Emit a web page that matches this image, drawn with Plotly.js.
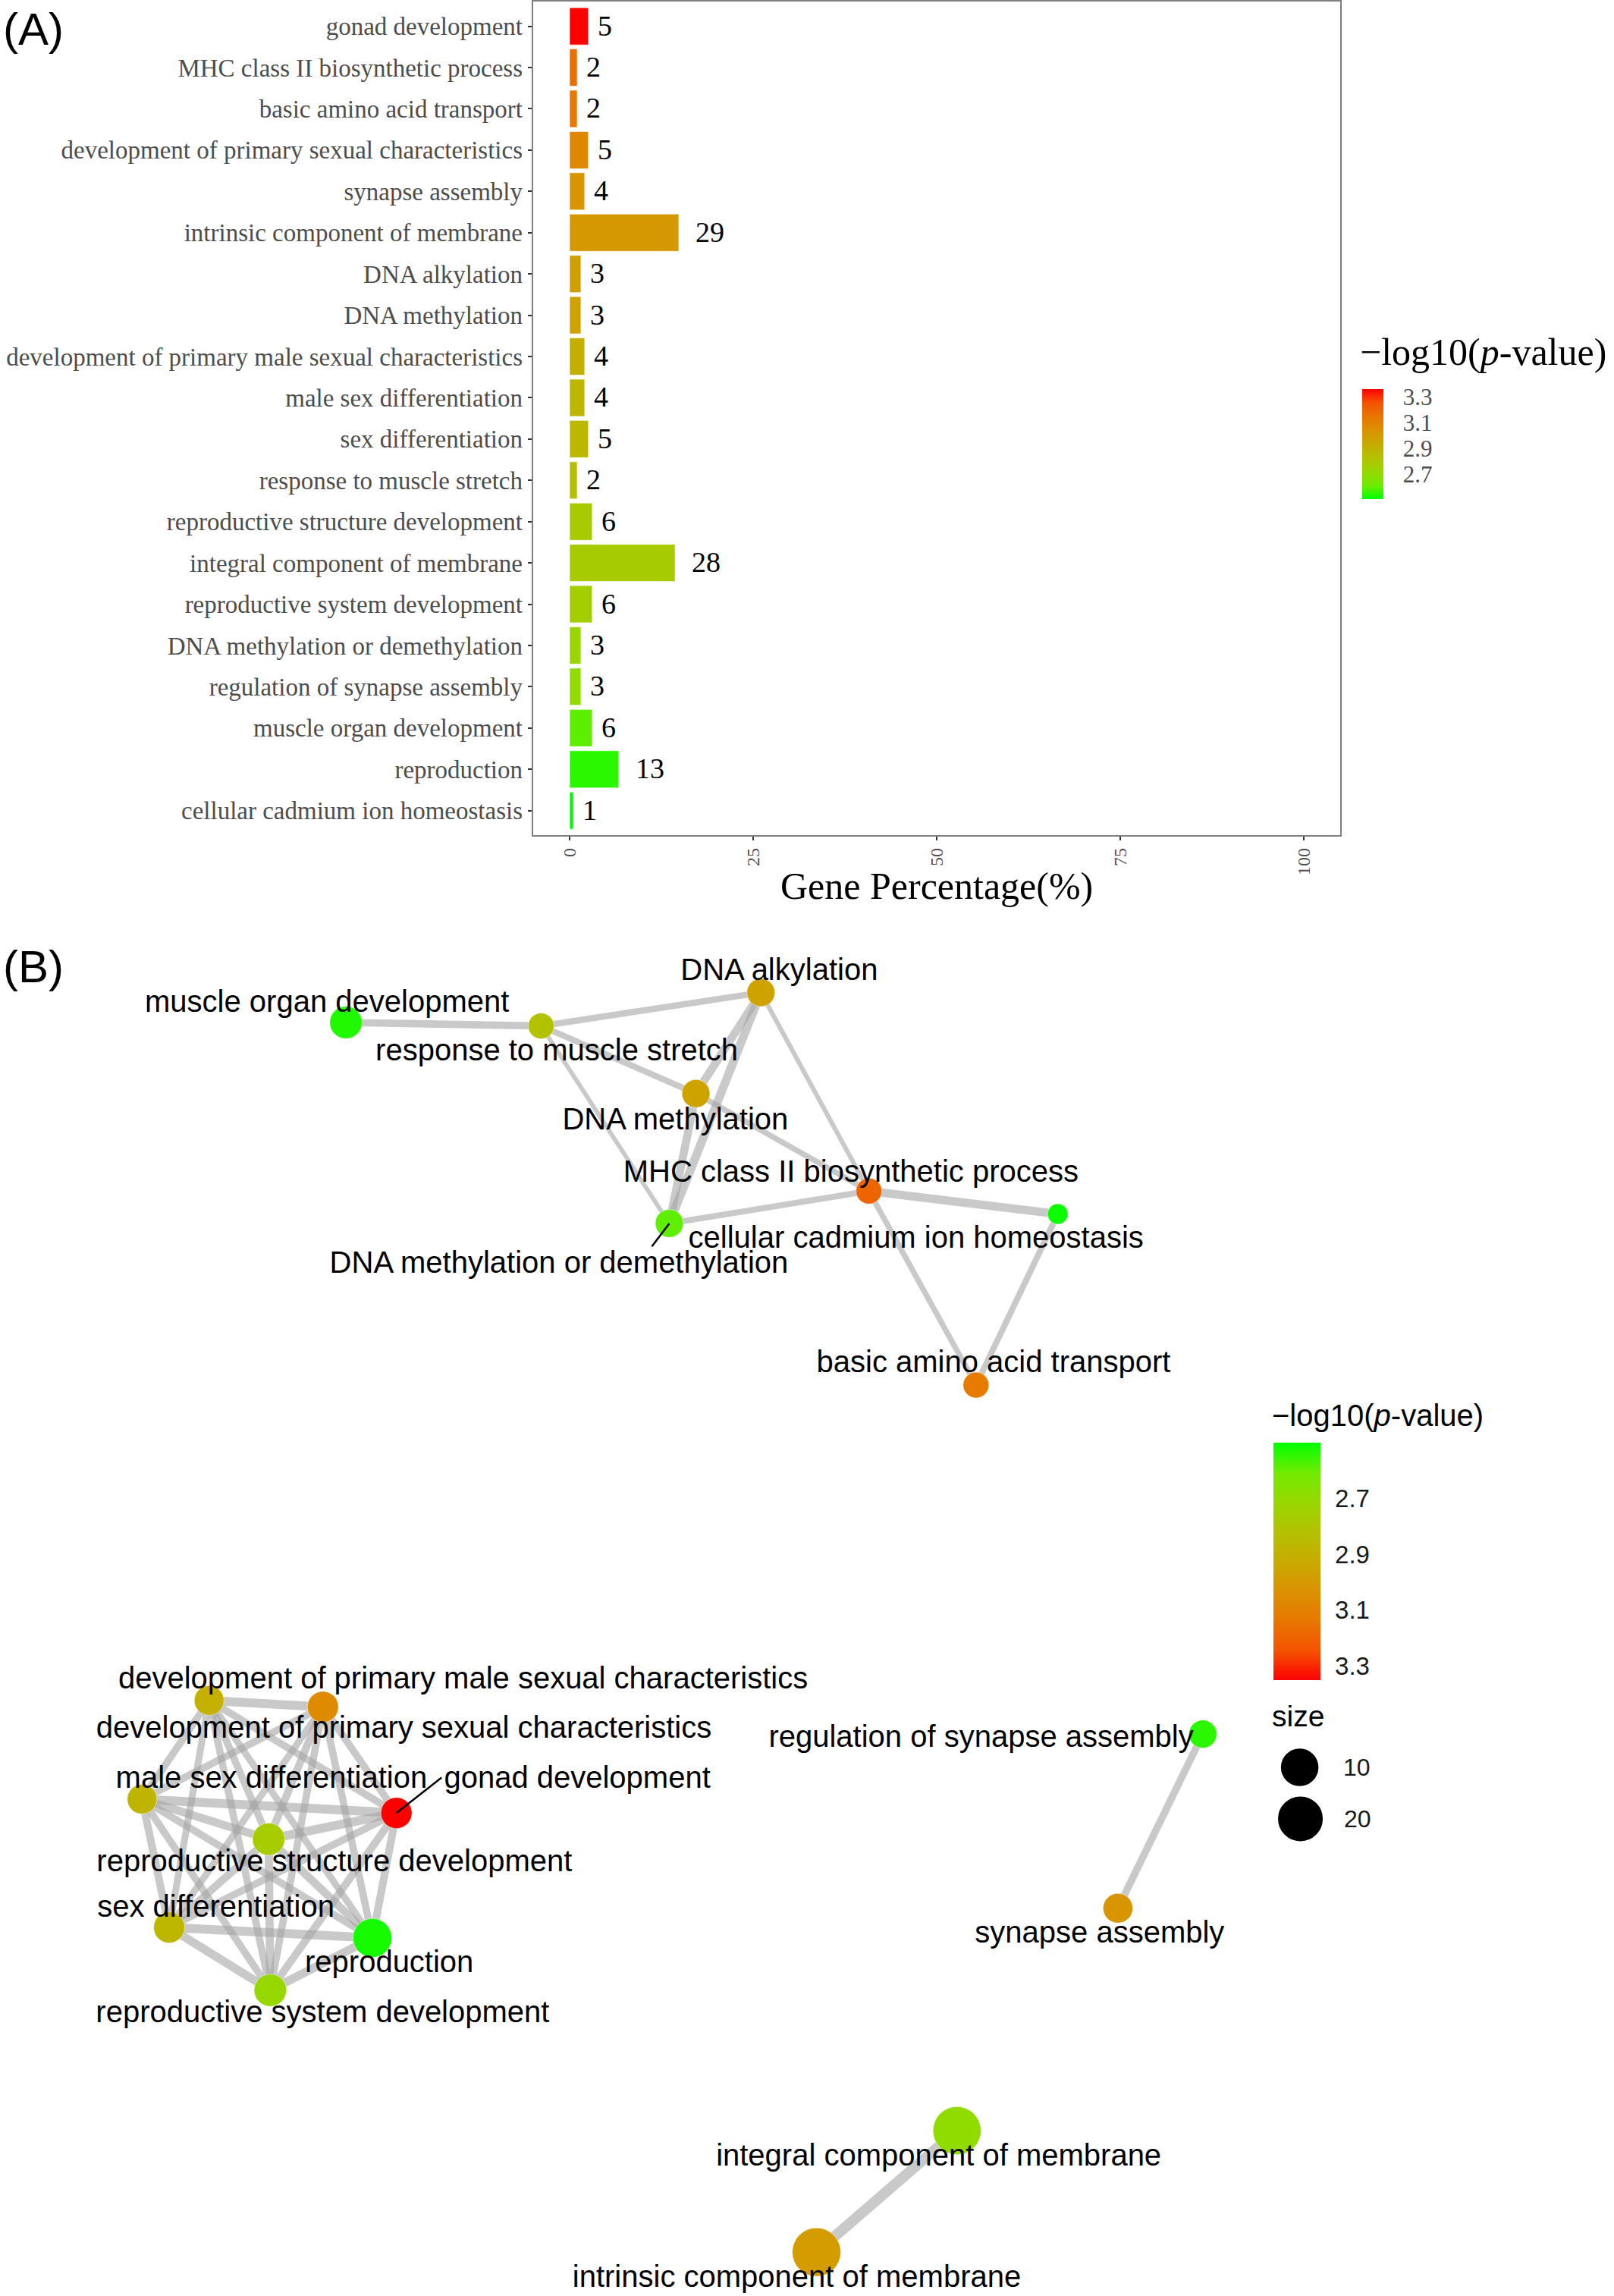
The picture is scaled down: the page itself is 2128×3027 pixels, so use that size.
<!DOCTYPE html>
<html>
<head>
<meta charset="utf-8">
<script src="https://cdn.plot.ly/plotly-3.0.1.min.js"></script>
<style>
html,body{margin:0;padding:0;background:#ffffff;}
#chart{width:2128px;height:3027px;}
</style>
</head>
<body>
<div id="chart"></div>
<script>
// ---------------- DATA ----------------
const terms = [
  "gonad development",
  "MHC class II biosynthetic process",
  "basic amino acid transport",
  "development of primary sexual characteristics",
  "synapse assembly",
  "intrinsic component of membrane",
  "DNA alkylation",
  "DNA methylation",
  "development of primary male sexual characteristics",
  "male sex differentiation",
  "sex differentiation",
  "response to muscle stretch",
  "reproductive structure development",
  "integral component of membrane",
  "reproductive system development",
  "DNA methylation or demethylation",
  "regulation of synapse assembly",
  "muscle organ development",
  "reproduction",
  "cellular cadmium ion homeostasis"
];
const geneCounts = [5, 2, 2, 5, 4, 29, 3, 3, 4, 4, 5, 2, 6, 28, 6, 3, 3, 6, 13, 1];
const genePct = [2.56, 1.03, 1.03, 2.56, 2.05, 14.87, 1.54, 1.54, 2.05, 2.05, 2.56, 1.03, 3.08, 14.36, 3.08, 1.54, 1.54, 3.08, 6.67, 0.51];
const negLogP = [3.36, 3.17, 3.14, 3.08, 3.02, 3.01, 2.98, 2.97, 2.91, 2.88, 2.87, 2.84, 2.78, 2.77, 2.76, 2.72, 2.69, 2.59, 2.54, 2.50];
const xTickVals = [0, 25, 50, 75, 100];
const colorTickVals = [2.7, 2.9, 3.1, 3.3];

// network (panel B): node colour values, layout coordinates, label coordinates
const nodeNegLogP = [3.35, 3.19, 3.12, 3.06, 3.02, 2.99, 2.96, 2.96, 2.90, 2.88, 2.87, 2.82, 2.77, 2.69, 2.71, 2.59, 2.54, 2.53, 2.52, 2.51];
const nodeX = [270.9, 593.8, 667.0, 220.7, 764.0, 558.0, 520.0, 475.6, 142.9, 97.1, 115.6, 369.8, 183.6, 654.0, 184.7, 457.4, 822.0, 236.4, 254.5, 722.9];
const nodeY = [1238.9, 813.9, 946.5, 1166.4, 1304.0, 1539.0, 678.3, 747.3, 1162.0, 1229.5, 1317.1, 701.1, 1256.8, 1456.0, 1360.0, 836.0, 1185.0, 698.7, 1324.3, 829.6];
const labelX = [394.5, 581.5, 679.0, 276.0, 751.5, 544.5, 532.5, 461.5, 316.5, 185.5, 147.5, 380.5, 228.5, 641.5, 220.5, 382.0, 670.5, 223.5, 266.0, 626.0];
const labelY = [1214, 800, 930, 1180, 1320, 1555, 662, 764, 1146, 1214, 1302, 717, 1271, 1472, 1374, 862, 1186, 684, 1340, 845];
// edges: from, to, similarity
const edgeFrom = [17, 11, 11, 11, 6, 6, 7, 6, 7, 15, 1, 1, 19,
  8, 8, 8, 8, 8, 8, 8, 3, 3, 3, 3, 3, 3, 9, 9, 9, 9, 9, 0, 0, 0, 0, 12, 12, 12, 10, 10, 18,
  16, 13];
const edgeTo = [11, 6, 7, 15, 7, 15, 15, 1, 1, 1, 19, 2, 2,
  3, 9, 0, 12, 10, 18, 14, 9, 0, 12, 10, 18, 14, 0, 12, 10, 18, 14, 12, 10, 18, 14, 10, 18, 14, 18, 14, 14,
  4, 5];
const edgeSim = [0.60, 0.50, 0.45, 0.25, 0.70, 0.75, 0.70, 0.28, 0.40, 0.45, 0.75, 0.40, 0.45,
  0.80, 0.60, 0.60, 0.60, 0.55, 0.55, 0.60, 0.60, 0.60, 0.65, 0.55, 0.60, 0.60, 0.80, 0.70, 0.65, 0.60, 0.60, 0.80, 0.60, 0.65, 0.65, 0.65, 0.70, 0.70, 0.80, 0.75, 0.75,
  0.60, 1.00];
// ggrepel leader segments: node index -> label end point
const leaderNode = [15, 0];
const leaderEndX = [445.5, 301.8];
const leaderEndY = [851.8, 1214.7];
const sizeLegendVals = [10, 20];

// ---------------- SCALES / STYLE ----------------
const W = 2128, H = 3027;
const colorscale = [
  [0, '#00FF00'], [0.125, '#70EB00'], [0.25, '#98D700'], [0.375, '#B3C200'],
  [0.5, '#C8AB00'], [0.625, '#DA9200'], [0.75, '#E87700'], [0.875, '#F45300'], [1, '#FF0000']
];
const colorscaleRev = colorscale.map(s => [1 - s[0], s[1]]).reverse();
const cMin = 2.50, cMax = 3.36;
const cMin2 = 2.50, cMax2 = 3.35;

const cntMin = Math.min(...geneCounts), cntMax = Math.max(...geneCounts);
function sizeScale(c) {
  const t = Math.max(0, (c - cntMin) / (cntMax - cntMin));
  return 27 + 37 * Math.sqrt(t);
}
function edgeWidth(s) { return 3 + 11 * s; }

const serif = 'Liberation Serif, Times New Roman, serif';
const sans = 'Liberation Sans, Arial, Helvetica, sans-serif';

// network axes use reference-drawing units (1103 x 1569 frame)
const netTop = 1240; // px
const unit = W / 1103.0;
const labelDy = 2.5; // text baseline correction

function py(p) { return 1 - p / H; }
function px(p) { return p / W; }

const traces = [];

// Panel A bars
traces.push({
  type: 'bar', orientation: 'h',
  x: genePct, y: terms,
  xaxis: 'x', yaxis: 'y',
  width: 0.9,
  marker: { color: negLogP, coloraxis: 'coloraxis', line: { color: 'rgba(255,255,255,0.6)', width: 1 } },
  hoverinfo: 'skip', showlegend: false
});

// Panel B edges
for (let k = 0; k < edgeFrom.length; k++) {
  const a = edgeFrom[k], b = edgeTo[k];
  traces.push({
    type: 'scatter', mode: 'lines',
    x: [nodeX[a], nodeX[b]], y: [nodeY[a], nodeY[b]],
    xaxis: 'x2', yaxis: 'y2',
    line: { color: 'rgba(165,165,165,0.6)', width: edgeWidth(edgeSim[k]) },
    hoverinfo: 'skip', showlegend: false
  });
}
// nodes
traces.push({
  type: 'scatter', mode: 'markers',
  x: nodeX, y: nodeY, xaxis: 'x2', yaxis: 'y2',
  marker: {
    size: geneCounts.map(sizeScale),
    color: nodeNegLogP.map(v => -v), coloraxis: 'coloraxis2',
    opacity: 1,
    line: { color: 'rgba(255,255,255,0.5)', width: 1 }
  },
  hoverinfo: 'skip', showlegend: false
});
// leader segments
for (let k = 0; k < leaderNode.length; k++) {
  const n = leaderNode[k];
  traces.push({
    type: 'scatter', mode: 'lines',
    x: [nodeX[n], leaderEndX[k]], y: [nodeY[n], leaderEndY[k]],
    xaxis: 'x2', yaxis: 'y2',
    line: { color: '#000000', width: 2.5 },
    hoverinfo: 'skip', showlegend: false
  });
}
// labels
traces.push({
  type: 'scatter', mode: 'text',
  x: labelX, y: labelY.map(v => v + labelDy), text: terms, xaxis: 'x2', yaxis: 'y2',
  textposition: 'middle center',
  textfont: { family: sans, size: 40, color: '#000000' },
  hoverinfo: 'skip', showlegend: false, cliponaxis: false
});
// size legend keys
const legendKeyX = [888.2, 888.7];
const legendKeyY = [1207.7, 1242.9];
traces.push({
  type: 'scatter', mode: 'markers',
  x: legendKeyX, y: legendKeyY, xaxis: 'x2', yaxis: 'y2',
  marker: { size: sizeLegendVals.map(sizeScale), color: '#000000', opacity: 1, line: { color: '#000000', width: 1.5 } },
  hoverinfo: 'skip', showlegend: false, cliponaxis: false
});

// ---------------- ANNOTATIONS ----------------
const annotations = [];
for (let i = 0; i < terms.length; i++) {
  const lbl = String(geneCounts[i]);
  annotations.push({
    x: genePct[i], y: terms[i], xref: 'x', yref: 'y',
    text: lbl, showarrow: false,
    xanchor: 'left', yanchor: 'middle', xshift: 1 + 9.5 * lbl.length, yshift: 1,
    font: { family: serif, size: 38, color: '#000000' }
  });
}
annotations.push({ x: px(2), y: py(38), xref: 'paper', yref: 'paper', xanchor: 'left', yanchor: 'middle',
  text: '(A)', showarrow: false, font: { family: sans, size: 60, color: '#000' } });
annotations.push({ x: px(2), y: py(1274), xref: 'paper', yref: 'paper', xanchor: 'left', yanchor: 'middle',
  text: '(B)', showarrow: false, font: { family: sans, size: 60, color: '#000' } });
annotations.push({ x: px(1235), y: py(1168), xref: 'paper', yref: 'paper', xanchor: 'center', yanchor: 'middle',
  text: 'Gene Percentage(%)', showarrow: false, font: { family: serif, size: 50, color: '#000' } });
annotations.push({ x: px(1791), y: py(464), xref: 'paper', yref: 'paper', xanchor: 'left', yanchor: 'middle',
  text: '\u2212log10(<i>p</i>-value)', showarrow: false, font: { family: serif, size: 50, color: '#000' } });
annotations.push({ x: px(1675), y: py(1866), xref: 'paper', yref: 'paper', xanchor: 'left', yanchor: 'middle',
  text: '\u2212log10(<i>p</i>-value)', showarrow: false, font: { family: sans, size: 40, color: '#000' } });
annotations.push({ x: px(1675), y: py(2262), xref: 'paper', yref: 'paper', xanchor: 'left', yanchor: 'middle',
  text: 'size', showarrow: false, font: { family: sans, size: 39, color: '#000' } });
for (let k = 0; k < sizeLegendVals.length; k++) {
  annotations.push({ x: legendKeyX[k] + 28.5, y: legendKeyY[k], xref: 'x2', yref: 'y2', xanchor: 'left', yanchor: 'middle',
    text: String(sizeLegendVals[k]), showarrow: false, font: { family: sans, size: 32, color: '#1a1a1a' } });
}

// ---------------- LAYOUT ----------------
const layout = {
  width: W, height: H,
  margin: { l: 0, r: 0, t: 0, b: 0, pad: 0 },
  paper_bgcolor: '#ffffff', plot_bgcolor: 'rgba(0,0,0,0)',
  showlegend: false,
  bargap: 0.1,
  xaxis: {
    domain: [702.6 / W, 1767.4 / W], range: [-5, 105], anchor: 'y',
    tickmode: 'array', tickvals: xTickVals, ticktext: xTickVals.map(String),
    ticks: 'outside', ticklen: 5, tickwidth: 2, tickcolor: '#333333',
    tickangle: -90,
    tickfont: { family: serif, size: 24, color: '#4d4d4d' },
    showline: true, mirror: true, linecolor: '#7f7f7f', linewidth: 2,
    showgrid: false, zeroline: false, fixedrange: true
  },
  yaxis: {
    domain: [py(1101.3), py(2)], anchor: 'x',
    type: 'category', categoryorder: 'array', categoryarray: terms,
    range: [19.6, -0.6],
    ticks: 'outside', ticklen: 5, tickwidth: 2, tickcolor: '#333333',
    tickfont: { family: serif, size: 33, color: '#4d4d4d' },
    showline: true, mirror: true, linecolor: '#7f7f7f', linewidth: 2,
    showgrid: false, zeroline: false, fixedrange: true
  },
  xaxis2: {
    domain: [0, 1], range: [0, W / unit], anchor: 'y2', visible: false, fixedrange: true
  },
  yaxis2: {
    domain: [0, py(netTop)], range: [H / unit, netTop / unit], anchor: 'x2', visible: false, fixedrange: true
  },
  coloraxis: {
    cmin: cMin, cmax: cMax, colorscale: colorscale,
    colorbar: {
      x: px(1796), xanchor: 'left', xref: 'paper', xpad: 0,
      y: py(586), yanchor: 'middle', yref: 'paper', ypad: 0,
      len: 145, lenmode: 'pixels', thickness: 28, thicknessmode: 'pixels',
      outlinewidth: 0,
      tickmode: 'array', tickvals: colorTickVals, ticktext: colorTickVals.map(v => v.toFixed(1)),
      ticks: 'outside', ticklen: 20, tickcolor: 'rgba(0,0,0,0)',
      tickfont: { family: serif, size: 31, color: '#4d4d4d' },
      title: { text: '' }
    }
  },
  coloraxis2: {
    cmin: -cMax2, cmax: -cMin2, colorscale: colorscaleRev,
    colorbar: {
      x: px(1678.5), xanchor: 'left', xref: 'paper', xpad: 0,
      y: py(2058.4), yanchor: 'middle', yref: 'paper', ypad: 0,
      len: 313, lenmode: 'pixels', thickness: 62, thicknessmode: 'pixels',
      outlinewidth: 0,
      tickmode: 'array', tickvals: colorTickVals.map(v => -v), ticktext: colorTickVals.map(v => v.toFixed(1)),
      ticks: 'outside', ticklen: 13, tickcolor: 'rgba(0,0,0,0)',
      tickfont: { family: sans, size: 33, color: '#1a1a1a' },
      title: { text: '' }
    }
  },
  annotations: annotations
};

Plotly.newPlot('chart', traces, layout, { staticPlot: true, displayModeBar: false });
</script>
</body>
</html>
